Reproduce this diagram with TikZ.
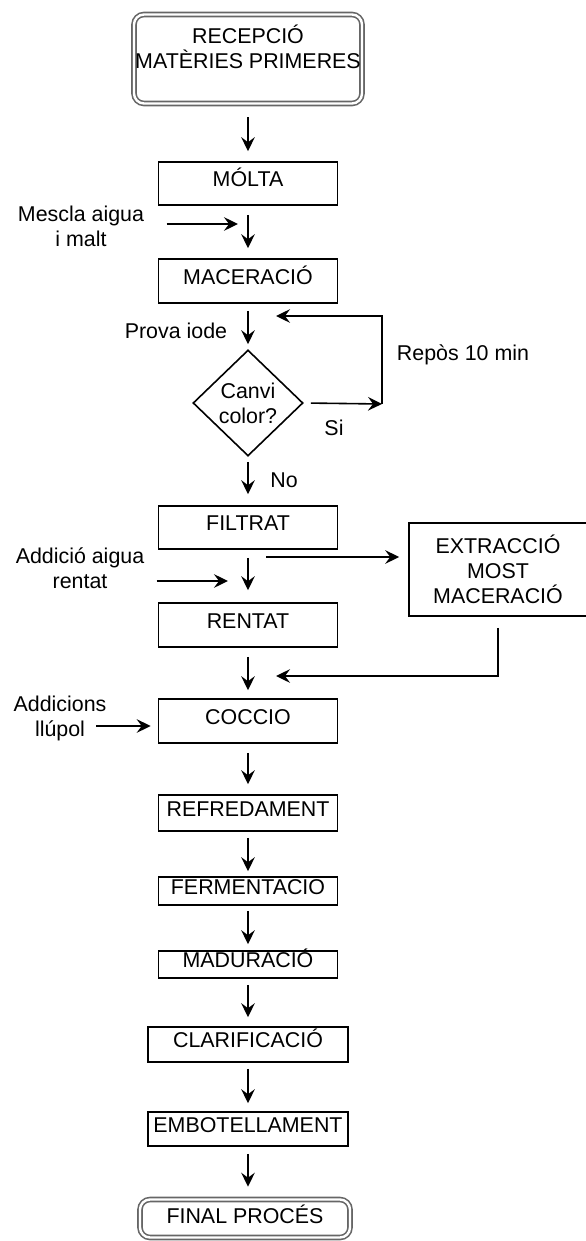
\documentclass[tikz,border=0pt]{standalone}
\usepackage{fontspec}
\setmainfont{Liberation Sans}
\usetikzlibrary{arrows.meta,shapes.geometric}

\begin{document}
\begin{tikzpicture}[x=0.5pt,y=-0.5pt,>={Stealth[length=7pt,width=6.8pt,inset=2.5pt]},
  font=\fontsize{10.7pt}{12.5pt}\selectfont,line width=0.8pt,
  stage/.style={draw,minimum width=89.5pt,minimum height=21.5pt,inner sep=0pt,
    text height=7.7pt,text depth=4.5pt},
  ends/.style={draw=black!60,double,double distance=1.2pt,line width=0.8pt,
    rounded corners=5pt,inner sep=0pt}]
  \useasboundingbox (0,0) rectangle (585,1241);

  \node[ends,minimum width=114pt,minimum height=44.5pt,align=center] (rec) at (248,59)
    {RECEPCIÓ\\MATÈRIES PRIMERES\\\mbox{}};
  \node[stage] (molta) at (248,183.5) {MÓLTA};
  \node[stage,minimum height=22pt] (mace) at (248,281) {MACERACIÓ};
  \node[draw,diamond,minimum width=55pt,minimum height=53pt,inner sep=0pt,align=center]
    (canvi) at (248,403) {Canvi\\color?};
  \node[stage] (filt) at (248,527.5) {FILTRAT};
  \node[stage,minimum height=22pt] (rent) at (248,625) {RENTAT};
  \node[stage,minimum height=22pt] (cocc) at (248,721) {COCCIO};
  \node[stage,minimum height=18pt] (refr) at (248,813) {REFREDAMENT};
  \node[stage,minimum height=14pt] (ferm) at (248,891) {FERMENTACIO};
  \node[stage,minimum height=13.5pt] (madu) at (248,964.5) {MADURACIÓ};
  \node[stage,minimum width=100pt,minimum height=17.5pt] (clar) at (248,1044.5) {CLARIFICACIÓ};
  \node[stage,minimum width=100pt,minimum height=17pt] (embo) at (248,1129) {EMBOTELLAMENT};
  \node[ends,minimum width=105pt,minimum height=19pt,text height=7.7pt,text depth=2.5pt]
    (final) at (245,1218.5) {FINAL PROCÉS};
  \node[draw,minimum width=89pt,minimum height=46.5pt,inner sep=0pt,align=center]
    (extr) at (498,569.5) {EXTRACCIÓ\\MOST\\MACERACIÓ};

  \node[align=center] (mescla) at (81,226) {Mescla aigua\\i malt};
  \node (prova) at (176,331) {Prova iode};
  \node (repos) at (463,355) {Repòs 10 min};
  \node (si) at (334,428) {Si};
  \node (no) at (284,480) {No};
  \node[align=center] (addAigua) at (80,568.5) {Addició aigua\\rentat};
  \node[align=center] (addLlupol) at (60,718.5) {Addicions\\llúpol};

  \coordinate (inMescla) at (238,224);
  \coordinate (loopCorner) at (382,404);
  \coordinate (loopEnd) at (276,316);
  \coordinate (inAigua) at (228,581);
  \coordinate (outFilt) at (266,557);
  \coordinate (inExtr) at (276,676);
  \coordinate (fromLlupol) at (96,726);

  \foreach \a/\b/\s/\e in {rec/molta/6.5pt/5pt,molta/mace/4.5pt/5pt,mace/canvi/3.5pt/2.5pt,
      canvi/filt/2.5pt/5.5pt,filt/rent/4pt/6pt,rent/cocc/4.5pt/4pt,cocc/refr/4.5pt/5pt,
      refr/ferm/3pt/2.5pt,ferm/madu/2.5pt/3pt,madu/clar/3pt/4.5pt,clar/embo/3pt/4pt,
      embo/final/3.5pt/6pt}
    \draw[->,shorten <=\s,shorten >=\e] (\a.south) -- (\a.south |- \b.north);

  \draw[->,shorten <=7.5pt] (mescla.east |- inMescla) -- (inMescla);
  \draw[->,shorten <=3.5pt] (canvi.east) -- (loopCorner);
  \draw[->] (loopCorner) |- (loopEnd);
  \draw[->,shorten <=2.5pt] (addAigua.east |- inAigua) -- (inAigua);
  \draw[->,shorten >=4.5pt] (outFilt) -- (outFilt -| extr.west);
  \draw[->,shorten <=5.5pt] (extr.south) |- (inExtr);
  \draw[->,shorten >=3.5pt] (fromLlupol) -- (fromLlupol -| cocc.west);
\end{tikzpicture}
\end{document}
